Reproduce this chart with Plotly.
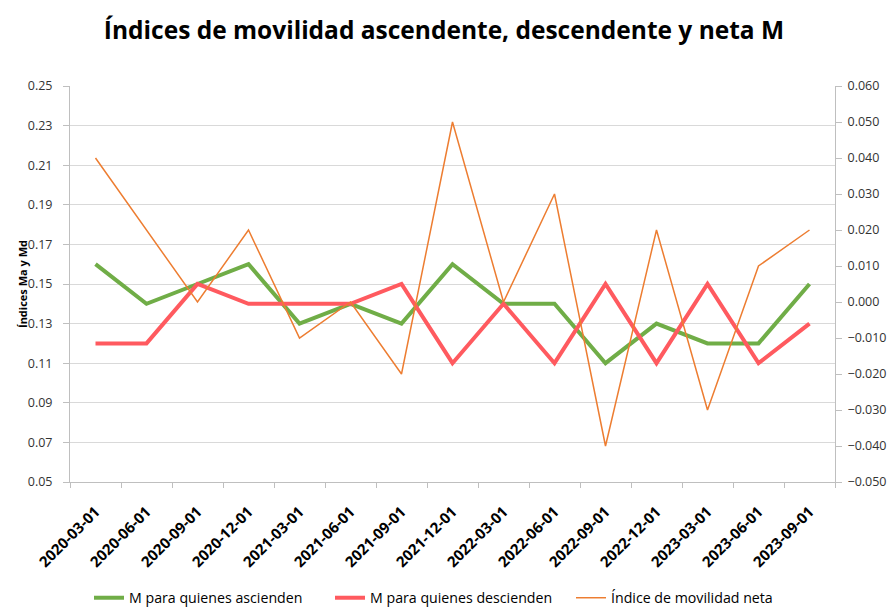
import plotly.graph_objects as go

fechas = ["2020-03-01", "2020-06-01", "2020-09-01", "2020-12-01", "2021-03-01",
          "2021-06-01", "2021-09-01", "2021-12-01", "2022-03-01", "2022-06-01",
          "2022-09-01", "2022-12-01", "2023-03-01", "2023-06-01", "2023-09-01"]
ascienden = [0.16, 0.14, 0.15, 0.16, 0.13, 0.14, 0.13, 0.16, 0.14, 0.14, 0.11, 0.13, 0.12, 0.12, 0.15]
descienden = [0.12, 0.12, 0.15, 0.14, 0.14, 0.14, 0.15, 0.11, 0.14, 0.11, 0.15, 0.11, 0.15, 0.11, 0.13]
neta = [0.04, 0.02, 0.00, 0.02, -0.01, 0.00, -0.02, 0.05, 0.00, 0.03, -0.04, 0.02, -0.03, 0.01, 0.02]

left_ticks = [0.05, 0.07, 0.09, 0.11, 0.13, 0.15, 0.17, 0.19, 0.21, 0.23, 0.25]
right_ticks = [-0.05, -0.04, -0.03, -0.02, -0.01, 0.0, 0.01, 0.02, 0.03, 0.04, 0.05, 0.06]

FONT = "Open Sans"
W, H = 888, 614
ML, MR, MT, MB = 70, 53, 86, 132
PW = W - ML - MR
PH = H - MT - MB

fig = go.Figure()
fig.add_trace(go.Scatter(x=fechas, y=ascienden, mode="lines", name="M para quienes ascienden",
                         line=dict(color="#70AD47", width=4)))
fig.add_trace(go.Scatter(x=fechas, y=descienden, mode="lines", name="M para quienes descienden",
                         line=dict(color="#FF5A5F", width=4)))
fig.add_trace(go.Scatter(x=fechas, y=neta, mode="lines", name="Índice de movilidad neta",
                         line=dict(color="#ED7D31", width=1.5), yaxis="y2"))

fig.add_annotation(text="<b>Índices Ma y Md</b>", textangle=-90,
                   xref="paper", yref="paper", x=(22 - ML) / PW, y=0.5,
                   xanchor="center", yanchor="middle", showarrow=False,
                   font=dict(size=11, family=FONT, color="#000000"))

fig.update_layout(
    width=W, height=H,
    margin=dict(l=ML, r=MR, t=MT, b=MB),
    paper_bgcolor="white", plot_bgcolor="white",
    font=dict(family=FONT, color="#000000"),
    title=dict(text="<b>Índices de movilidad ascendente, descendente y neta M</b>",
               x=0.5, xanchor="center", y=1 - 30 / H, yanchor="middle",
               font=dict(size=24.5, family=FONT, color="#000000")),
    xaxis=dict(type="category", range=[-0.5, len(fechas) - 0.5], automargin=False,
               tickangle=-45, tickson="boundaries",
               ticks="outside", ticklen=5, tickcolor="#BFBFBF",
               showline=True, linecolor="#BFBFBF", linewidth=1, ticklabelstandoff=14,
               showgrid=False, tickfont=dict(size=15, family=FONT, color="#000000"),
               tickprefix="<b>", ticksuffix="</b>"),
    yaxis=dict(range=[0.05, 0.25], tickvals=left_ticks, tickformat=".2f", automargin=False,
               showgrid=True, gridcolor="#D9D9D9", gridwidth=1,
               showline=True, linecolor="#BFBFBF", ticks="outside", ticklen=6,
               tickcolor="#BFBFBF", zeroline=False, ticklabelstandoff=8,
               tickfont=dict(size=12.5, family=FONT, color="#333333")),
    yaxis2=dict(range=[-0.05, 0.06], tickvals=right_ticks, tickformat=".3f", automargin=False,
                overlaying="y", side="right", showgrid=False, zeroline=False,
                showline=True, linecolor="#BFBFBF", ticks="outside", ticklen=6,
                tickcolor="#BFBFBF", ticklabelstandoff=3,
                tickfont=dict(size=12.5, family=FONT, color="#333333")),
    legend=dict(orientation="h", x=89 / W, xanchor="left", xref="container",
                y=-6 / H, yanchor="bottom", yref="container",
                entrywidth=196, entrywidthmode="pixels",
                font=dict(size=14.2, family=FONT), itemwidth=30, traceorder="normal"),
)

fig.write_html("out.html",
               config={"displayModeBar": False},
               post_script="document.body.style.margin='0';"
                           "document.documentElement.style.overflow='hidden';")
